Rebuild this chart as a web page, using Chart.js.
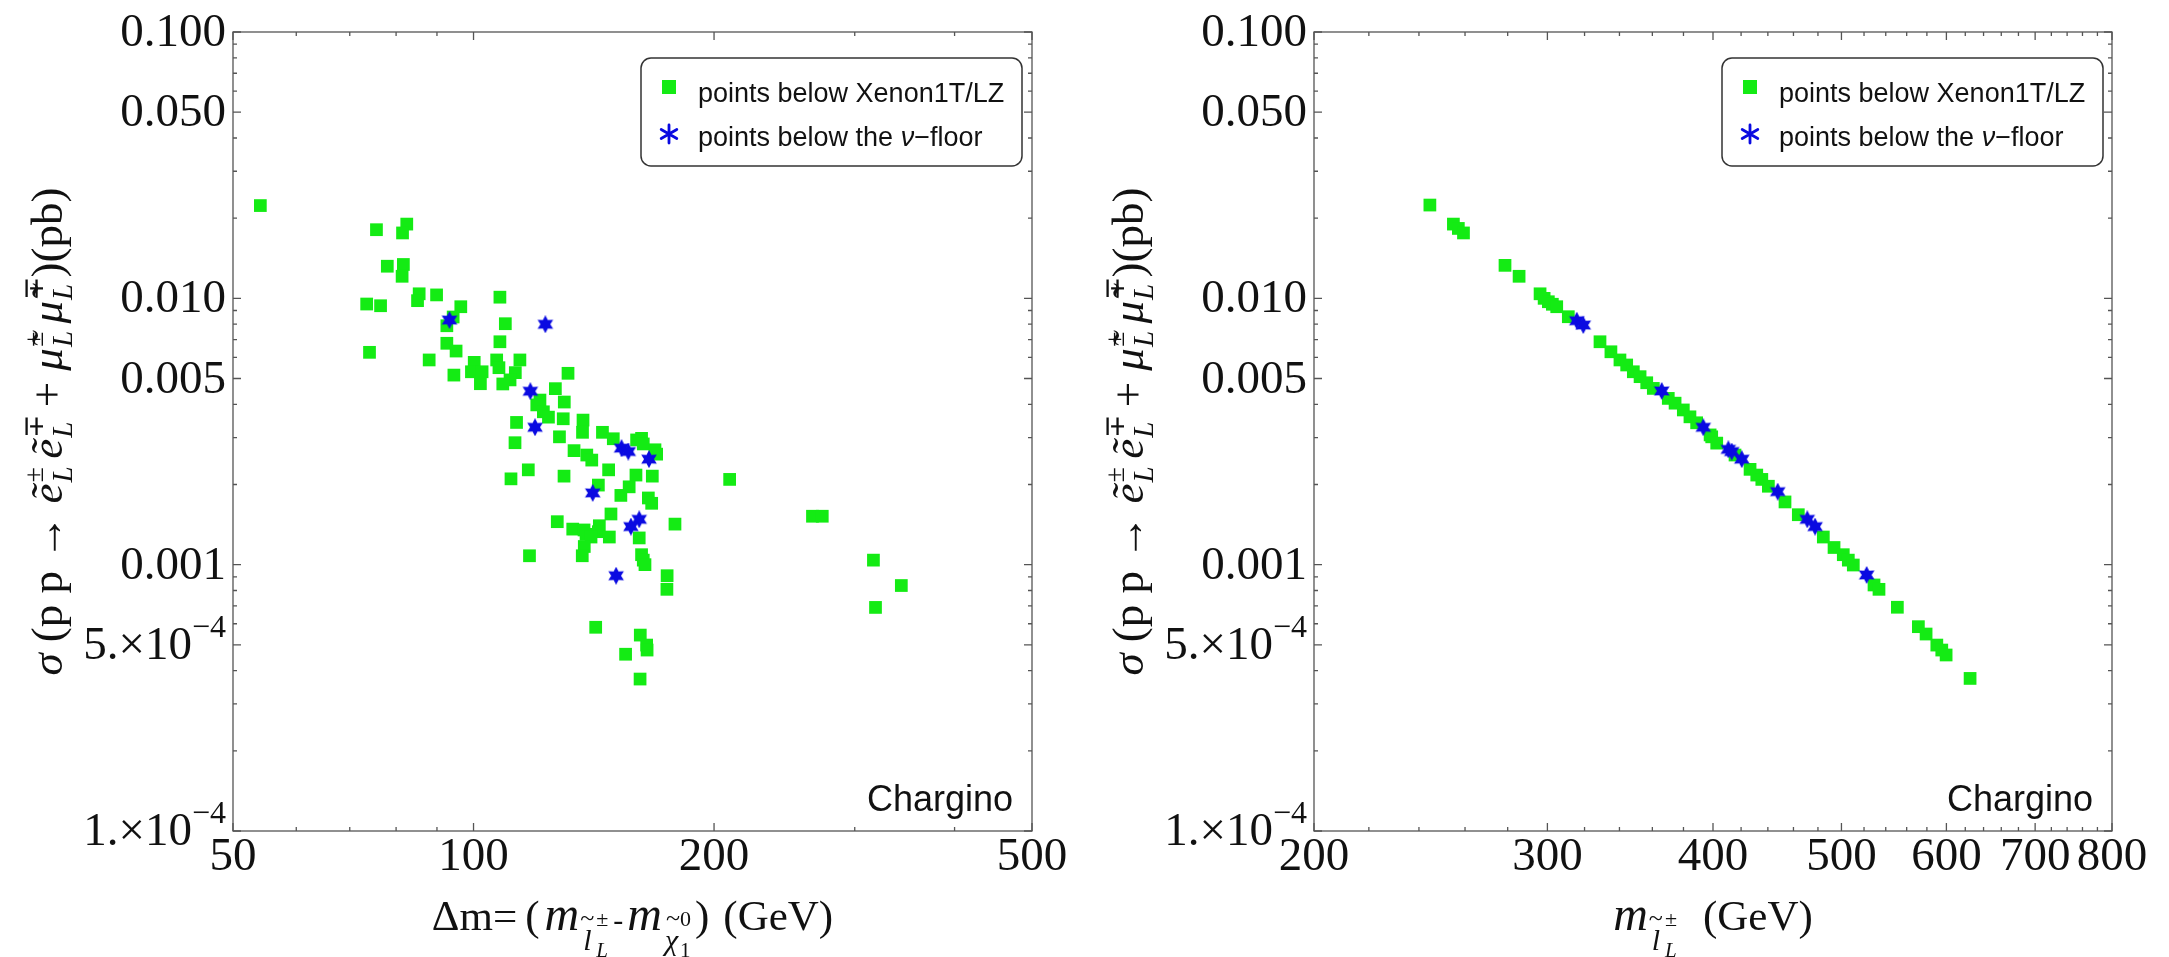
<!DOCTYPE html>
<html>
<head>
<meta charset="utf-8">
<script src="https://cdn.jsdelivr.net/npm/chart.js@4.4.0/dist/chart.umd.min.js"></script>
<style>
  body { margin: 0; background: #fff; }
  canvas { position: absolute; top: 0; }
  #leftChart { left: 0; }
  #rightChart { left: 1081px; }
</style>
</head>
<body>
<canvas id="leftChart" width="1084" height="957"></canvas>
<canvas id="rightChart" width="1088" height="957"></canvas>
<script>
// Left panel: slepton pair cross section vs mass splitting Δm
const dmGreen = [54.1, 75.6, 82.5, 81.5, 78.0, 81.7, 81.4, 73.5, 76.5, 85.5, 85.1, 89.9, 96.4, 107.9,
  74.1, 92.6, 94.3, 109.6, 107.9, 92.6, 95.1, 88.0, 94.5, 100.2, 99.4, 102.5, 102.0, 106.9, 107.6,
  114.3, 112.8, 111.1, 108.8, 131.3, 126.6, 129.9, 121.1, 120.0, 122.3, 124.1, 129.5, 137.1, 113.2,
  112.7, 128.1, 136.9, 145.0, 149.6, 160.0, 162.3, 163.1, 168.7, 169.5, 133.6, 138.6, 140.6, 147.6,
  117.1, 111.4, 129.8, 159.7, 167.4, 143.3, 156.6, 152.9, 165.5, 167.1, 148.6, 127.3, 133.1, 137.5,
  138.3, 143.7, 143.3, 140.3, 147.9, 161.2, 178.7, 137.6, 136.8, 117.5, 162.3, 163.1, 163.9, 174.7,
  174.6, 142.2, 161.7, 164.7, 164.9, 155.0, 161.6, 209.2, 265.6, 273.2, 316.6, 318.5, 343.1];
const sigmaGreenLeft = [0.0223, 0.0181, 0.0190, 0.0176, 0.0132, 0.0134, 0.0121, 0.00952, 0.00938, 0.0104,
  0.00980, 0.0103, 0.00930, 0.0101, 0.00627, 0.00789, 0.00851, 0.00803, 0.00687, 0.00678, 0.00634,
  0.00587, 0.00515, 0.00575, 0.00530, 0.00530, 0.00478, 0.00587, 0.00549, 0.00587, 0.00526, 0.00494,
  0.00477, 0.00523, 0.00458, 0.00408, 0.00415, 0.00398, 0.00375, 0.00358, 0.00353, 0.00349, 0.00342,
  0.00287, 0.00302, 0.00314, 0.00314, 0.00297, 0.00294, 0.00298, 0.00284, 0.00270, 0.00260, 0.00268,
  0.00258, 0.00247, 0.00227, 0.00227, 0.00210, 0.00215, 0.00217, 0.00215, 0.00199, 0.00196, 0.00182,
  0.00178, 0.00170, 0.00155, 0.00145, 0.00136, 0.00135, 0.00130, 0.00140, 0.00133, 0.00127, 0.00127,
  0.00126, 0.00142, 0.00117, 0.00108, 0.00108, 0.00109, 0.00104, 0.00100, 0.000909, 0.000808,
  0.000582, 0.000544, 0.000499, 0.000478, 0.000461, 0.000372, 0.00209, 0.00152, 0.00152, 0.00104,
  0.000691, 0.000835];
const dmBlue = [93.3, 123.0, 117.8, 119.4, 153.2, 156.2, 165.8, 141.0, 161.2, 157.4, 150.8];
const sigmaBlueLeft = [0.00829, 0.00799, 0.00448, 0.00328, 0.00274, 0.00266, 0.00249, 0.00186, 0.00148,
  0.00139, 0.000909];

// Right panel: same cross section vs slepton mass
const massGreen = [244.6, 254.8, 257.0, 259.3, 278.7, 285.6, 296.2, 298.3, 300.5, 302.6, 304.9, 311.1,
  328.7, 335.0, 340.3, 344.3, 348.3, 352.4, 356.5, 360.6, 370.1, 374.5, 379.9, 384.3, 388.8, 398.0,
  399.1, 402.6, 415.6, 426.6, 431.6, 435.4, 440.4, 453.3, 463.9, 484.5, 493.6, 501.6, 506.0, 510.4,
  529.1, 533.7, 551.0, 571.5, 579.2, 590.1, 595.2, 599.7, 625.2];
const sigmaGreenRight = [0.0224, 0.0190, 0.0183, 0.0176, 0.0133, 0.0121, 0.0104, 0.0100, 0.00971,
  0.00950, 0.00930, 0.00853, 0.00687, 0.00630, 0.00587, 0.00562, 0.00530, 0.00508, 0.00482, 0.00459,
  0.00421, 0.00404, 0.00381, 0.00359, 0.00341, 0.00307, 0.00302, 0.00286, 0.00258, 0.00228, 0.00217,
  0.00209, 0.00197, 0.00172, 0.00154, 0.00127, 0.00116, 0.00109, 0.00104, 0.000997, 0.000839,
  0.000808, 0.000692, 0.000585, 0.000549, 0.000499, 0.000478, 0.000458, 0.000374];
const massBlue = [315.7, 319.3, 365.9, 393.3, 410.8, 413.2, 420.5, 447.6, 471.2, 477.6, 522.4];
const sigmaBlueRight = [0.00824, 0.00794, 0.00449, 0.00328, 0.00271, 0.00266, 0.00249, 0.00188, 0.00148,
  0.00139, 0.000915];

// axis ticks
const sigmaTicks = [0.1, 0.05, 0.01, 0.005, 0.001, 0.0005, 0.0001];
const sigmaTickLabels = ['0.100', '0.050', '0.010', '0.005', '0.001', '5.×10^−4', '1.×10^−4'];
const sigmaMinor = [0.09, 0.08, 0.07, 0.06, 0.04, 0.03, 0.02, 0.009, 0.008, 0.007, 0.006, 0.004, 0.003,
  0.002, 0.0009, 0.0008, 0.0007, 0.0006, 0.0004, 0.0003, 0.0002];
const dmTicks = [50, 100, 200, 500];
const dmMinor = [60, 70, 80, 90, 300, 400];
const massTicks = [200, 300, 400, 500, 600, 700, 800];
const massMinor = [220, 240, 260, 280, 320, 340, 360, 380, 420, 440, 460, 480, 520, 540, 560, 580,
  620, 640, 660, 680, 720, 740, 760, 780];

const GREEN = 'rgb(20,235,20)';
const BLUE = 'rgb(10,10,225)';
const FRAME = '#555';

const serif = px => px + 'px "Liberation Serif", "Times New Roman", serif';
const serifIt = px => 'italic ' + serif(px);
const sans = px => px + 'px "Liberation Sans", Arial, sans-serif';

// six pointed star used for the blue points
function makeStar(size, color) {
  const c = document.createElement('canvas');
  c.width = c.height = size;
  const g = c.getContext('2d');
  const r = size / 2, ri = r * 0.55;
  g.beginPath();
  for (let k = 0; k < 12; k++) {
    const a = -Math.PI / 2 + k * Math.PI / 6;
    const rr = k % 2 ? ri : r;
    g.lineTo(r + rr * Math.cos(a), r + rr * Math.sin(a));
  }
  g.closePath();
  g.fillStyle = color;
  g.fill();
  return c;
}
const starImg = makeStar(18, BLUE);

// sub/superscript block of a slepton in the y title
const slep = (base, sign) => [
  { t: base, f: serifIt(45) },
  { t: 'L', f: serifIt(29), dy: 10, dx: 1 },
  { t: sign, f: serif(28), dy: -19, over: true },
  { t: ' ', f: serif(30) }
];
const yTitle = [
  { t: 'σ', f: serifIt(45) },
  { t: ' (p p → ', f: serif(45) },
  ...slep('ẽ', '±'),
  ...slep('ẽ', '∓'),
  { t: '+ ', f: serif(45) },
  ...slep('μ\u0303', '±'),
  ...slep('μ\u0303', '∓'),
  { t: ')(pb)', f: serif(45), dx: -8 }
];
// subscript of m: slepton l~ with L and ± attached
const sleptonSub = [
  { t: 'l', f: serifIt(30), dy: 20, dx: 4 },
  { t: '~', f: serif(26), dy: -4, over: true, dx: -3 },
  { t: 'L', f: serifIt(21), dy: 27, dx: 2 },
  { t: '±', f: serif(22), dy: -4, over: true }
];
const xTitleLeft = [
  { t: 'Δm=', f: serif(43) },
  { t: '(', f: serif(43), dx: 8 },
  { t: 'm', f: serifIt(48), dx: 5 },
  ...sleptonSub,
  { t: '-', f: serif(30), dx: 5 },
  { t: 'm', f: serifIt(48), dx: 4 },
  { t: 'χ', f: serifIt(30), dy: 20, dx: 3 },
  { t: '~', f: serif(26), dy: -4, over: true, dx: 1 },
  { t: '1', f: serif(21), dy: 27 },
  { t: '0', f: serif(22), dy: -4, over: true },
  { t: ')', f: serif(43), dx: 4 },
  { t: '(GeV)', f: serif(43), dx: 14 }
];
const xTitleRight = [
  { t: 'm', f: serifIt(48) },
  ...sleptonSub,
  { t: '(GeV)', f: serif(43), dx: 26 }
];

const panelSetup = {
  leftChart: { xMajor: dmTicks, xMinor: dmMinor, xTitle: xTitleLeft },
  rightChart: { xMajor: massTicks, xMinor: massMinor, xTitle: xTitleRight }
};

function layoutRich(ctx, pieces) {
  let x = 0, blockStart = 0, blockEnd = 0;
  const out = [];
  for (const p of pieces) {
    ctx.font = p.f;
    const w = ctx.measureText(p.t).width;
    if (p.over) {
      const px = blockStart + (p.dx || 0);
      out.push({ p, x: px });
      blockEnd = Math.max(blockEnd, px + w);
      x = blockEnd;
    } else {
      x += p.dx || 0;
      out.push({ p, x });
      blockStart = x;
      blockEnd = x + w;
      x = blockEnd;
    }
  }
  return { out, width: x };
}

function drawRich(ctx, pieces, cx, baseline) {
  const { out, width } = layoutRich(ctx, pieces);
  const x0 = cx - width / 2;
  ctx.textAlign = 'left';
  ctx.textBaseline = 'alphabetic';
  for (const { p, x } of out) {
    ctx.font = p.f;
    ctx.fillText(p.t, x0 + x, baseline + (p.dy || 0));
  }
}

function drawAsterisk(ctx, x, y, r, color) {
  ctx.save();
  ctx.strokeStyle = color;
  ctx.lineWidth = 2.8;
  ctx.lineCap = 'round';
  ctx.beginPath();
  for (let k = 0; k < 3; k++) {
    const a = Math.PI / 2 + k * Math.PI / 3;
    ctx.moveTo(x - r * Math.cos(a), y - r * Math.sin(a));
    ctx.lineTo(x + r * Math.cos(a), y + r * Math.sin(a));
  }
  ctx.stroke();
  ctx.restore();
}

const panelDecor = {
  id: 'panelDecor',
  afterDraw(chart) {
    const setup = panelSetup[chart.canvas.id];
    const ctx = chart.ctx;
    const area = chart.chartArea;
    const xs = chart.scales.x, ys = chart.scales.y;
    ctx.save();

    // frame with inward ticks on all four sides
    ctx.strokeStyle = FRAME;
    ctx.lineWidth = 1.3;
    ctx.strokeRect(area.left, area.top, area.right - area.left, area.bottom - area.top);
    ctx.beginPath();
    const xTick = (v, len) => {
      const x = xs.getPixelForValue(v);
      ctx.moveTo(x, area.bottom); ctx.lineTo(x, area.bottom - len);
      ctx.moveTo(x, area.top); ctx.lineTo(x, area.top + len);
    };
    const yTick = (v, len) => {
      const y = ys.getPixelForValue(v);
      ctx.moveTo(area.left, y); ctx.lineTo(area.left + len, y);
      ctx.moveTo(area.right, y); ctx.lineTo(area.right - len, y);
    };
    setup.xMajor.forEach(v => xTick(v, 8));
    setup.xMinor.forEach(v => xTick(v, 4));
    sigmaTicks.forEach(v => yTick(v, 8));
    sigmaMinor.forEach(v => yTick(v, 4));
    ctx.stroke();

    // tick labels
    ctx.fillStyle = '#111';
    ctx.textBaseline = 'alphabetic';
    ctx.font = serif(47);
    ctx.textAlign = 'center';
    setup.xMajor.forEach(v => ctx.fillText(String(v), xs.getPixelForValue(v), 870));
    ctx.textAlign = 'left';
    sigmaTicks.forEach((v, i) => {
      const y = ys.getPixelForValue(v) + 14;
      const [main, sup] = sigmaTickLabels[i].split('^');
      ctx.font = serif(47);
      const wm = ctx.measureText(main).width;
      let ws = 0;
      if (sup) { ctx.font = serif(32); ws = ctx.measureText(sup).width; }
      const xr = area.left - 7;
      ctx.font = serif(47);
      ctx.fillText(main, xr - ws - wm, y);
      if (sup) { ctx.font = serif(32); ctx.fillText(sup, xr - ws, y - 22); }
    });

    // axis titles, centred under / beside the plot frame
    drawRich(ctx, setup.xTitle, xs.left + xs.width / 2, 930);
    ctx.save();
    ctx.translate(62, ys.top + ys.height / 2);
    ctx.rotate(-Math.PI / 2);
    drawRich(ctx, yTitle, 0, 0);
    ctx.restore();

    // panel tag
    ctx.font = sans(36);
    ctx.textAlign = 'right';
    ctx.fillText('Chargino', area.right - 19, area.bottom - 20);

    // legend box
    const lx = area.left + 408, ly = 58, lw = 381, lh = 108;
    ctx.beginPath();
    ctx.roundRect(lx, ly, lw, lh, 10);
    ctx.fillStyle = '#fff';
    ctx.fill();
    ctx.strokeStyle = '#333';
    ctx.lineWidth = 1.5;
    ctx.stroke();
    const [green, blue] = chart.data.datasets;
    ctx.fillStyle = green.backgroundColor;
    ctx.fillRect(area.left + 429, 80, 14, 14);
    drawAsterisk(ctx, area.left + 436, 134, 9, blue.backgroundColor);
    ctx.fillStyle = '#111';
    ctx.textAlign = 'left';
    ctx.font = sans(27);
    ctx.fillText(green.label, area.left + 465, 102);
    let tx = area.left + 465;
    blue.label.split(/(ν)/).forEach(part => {
      ctx.font = part === 'ν' ? 'italic ' + sans(27) : sans(27);
      ctx.fillText(part, tx, 146);
      tx += ctx.measureText(part).width;
    });

    ctx.restore();
  }
};

function points(xv, yv) {
  return xv.map((x, i) => ({ x, y: yv[i] }));
}

function makePanel(id, xMin, xMax, rightPad, greenX, greenY, blueX, blueY) {
  return new Chart(id, {
    type: 'scatter',
    data: {
      datasets: [
        {
          label: 'points below Xenon1T/LZ',
          data: points(greenX, greenY),
          pointStyle: 'rect',
          pointRadius: 9,
          backgroundColor: GREEN,
          borderWidth: 0,
          order: 1
        },
        {
          label: 'points below the ν−floor',
          data: points(blueX, blueY),
          pointStyle: starImg,
          pointRadius: 9,
          backgroundColor: BLUE,
          borderWidth: 0,
          order: 0
        }
      ]
    },
    options: {
      responsive: false,
      animation: false,
      events: [],
      layout: { autoPadding: false, padding: { top: 32, right: rightPad, left: 0, bottom: 0 } },
      plugins: { legend: { display: false }, tooltip: { enabled: false } },
      scales: {
        x: {
          type: 'logarithmic', min: xMin, max: xMax,
          grid: { display: false }, border: { display: false }, ticks: { display: false },
          afterFit: s => { s.height = 126; }
        },
        y: {
          type: 'logarithmic', min: 0.0001, max: 0.1,
          grid: { display: false }, border: { display: false }, ticks: { display: false },
          afterFit: s => { s.width = 233; }
        }
      }
    },
    plugins: [panelDecor]
  });
}

makePanel('leftChart', 50, 500, 52, dmGreen, sigmaGreenLeft, dmBlue, sigmaBlueLeft);
makePanel('rightChart', 200, 800, 57, massGreen, sigmaGreenRight, massBlue, sigmaBlueRight);
</script>
</body>
</html>
